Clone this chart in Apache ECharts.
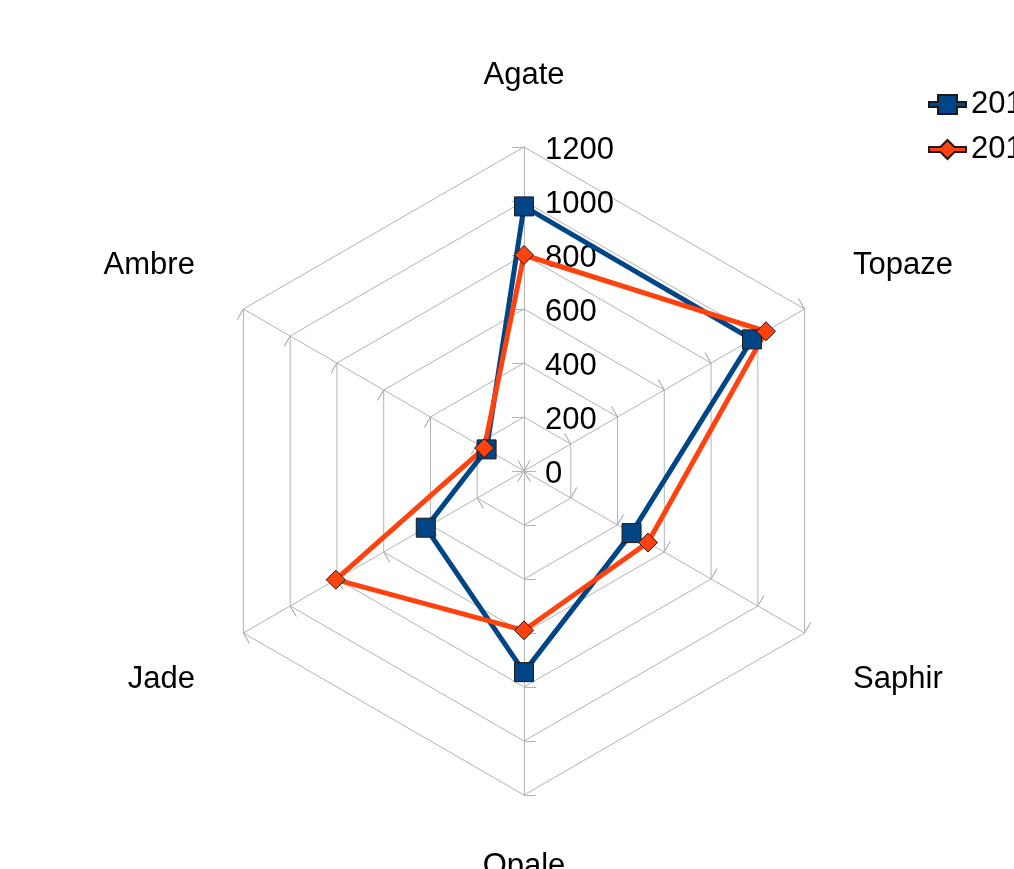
<!DOCTYPE html>
<html>
<head>
<meta charset="utf-8">
<script src="https://cdn.jsdelivr.net/npm/echarts@6/dist/echarts.min.js"></script>
<style>
html,body{margin:0;padding:0;background:#fff;}
#chart{width:1014px;height:869px;}
</style>
</head>
<body>
<div id="chart"></div>
<script>
// Categories in clockwise order starting from the top
const categories = ['Agate', 'Topaze', 'Saphir', 'Opale', 'Jade', 'Ambre'];
const seriesNames = ['2011', '2012'];
const values2011 = [980, 975, 460, 745, 420, 160];
const values2012 = [800, 1035, 530, 590, 805, 170];
const axisMin = 0;
const axisMax = 1200;
const axisSplits = 6;

// ECharts lays indicators out counter-clockwise: reorder so they appear clockwise
const order = [0].concat(categories.map((_, i) => i).slice(1).reverse());
const indicatorNames = order.map(i => categories[i]);
const d2011 = order.map(i => values2011[i]);
const d2012 = order.map(i => values2012[i]);

const FONT = 'Liberation Sans, Arial, sans-serif';
const FS = 31;
const GRID = '#b3b3b3';
const BLUE = '#004586';
const ORANGE = '#ff420e';

function nameStyle(idx) {
  const ang = (90 + idx * 360 / indicatorNames.length) % 360;
  if (Math.abs(Math.cos(ang * Math.PI / 180)) < 1e-6) return 'v';
  return Math.sin(ang * Math.PI / 180) > 0 ? 'up' : 'down';
}

const commonRadar = {
  center: [524, 471],
  radius: 324,
  startAngle: 90,
  splitNumber: axisSplits,
  shape: 'polygon'
};

const indicators = indicatorNames.map((n, i) => {
  const o = { name: n, min: axisMin, max: axisMax };
  if (i === 0) {
    o.axisLabel = {
      show: true, margin: -21, align: 'left',
      color: '#000', fontSize: FS, fontFamily: FONT,
      formatter: function (v) { return '{a|' + String(v) + '}'; },
      rich: { a: { fontSize: FS, fontFamily: FONT, color: '#000', padding: [7, 0, 0, 0] } }
    };
  }
  return o;
});

const option = {
  backgroundColor: '#fff',
  animation: false,
  legend: {
    orient: 'vertical',
    left: 923,
    top: 84,
    itemWidth: 37,
    itemHeight: 19,
    itemGap: 14,
    textStyle: { fontSize: FS, fontFamily: FONT, color: '#000' },
    data: [
      { name: seriesNames[0], icon: 'path://M0,7H9V0H28V7H37V12H28V19H9V12H0Z' },
      { name: seriesNames[1], icon: 'path://M0,7H11.5L18.5,0L25.5,7H37V12H25.5L18.5,19L11.5,12H0Z' }
    ]
  },
  radar: [
    Object.assign({}, commonRadar, {
      indicator: indicators,
      nameGap: 56,
      axisName: {
        color: '#000', fontSize: FS, fontFamily: FONT,
        formatter: function (name) {
          const idx = indicatorNames.indexOf(name);
          return '{' + nameStyle(idx) + '|' + name + '}';
        },
        rich: {
          v: { fontSize: FS, fontFamily: FONT, color: '#000' },
          up: { fontSize: FS, fontFamily: FONT, color: '#000', padding: [0, 0, 32, 0] },
          down: { fontSize: FS, fontFamily: FONT, color: '#000', padding: [36, 0, 0, 0] }
        }
      },
      axisLine: { lineStyle: { color: GRID, width: 1 } },
      splitLine: { lineStyle: { color: GRID, width: 1 } },
      splitArea: { show: false },
      axisTick: { show: true, length: 12, lineStyle: { color: GRID, width: 1 } }
    }),
    Object.assign({}, commonRadar, {
      indicator: indicatorNames.map(n => ({ name: n, min: axisMin, max: axisMax })),
      axisName: { show: false },
      axisLine: { show: false },
      splitLine: { show: false },
      splitArea: { show: false },
      axisTick: { show: true, inside: true, length: 12, lineStyle: { color: GRID, width: 1 } },
      axisLabel: { show: false }
    })
  ],
  series: [{
    type: 'radar',
    radarIndex: 0,
    z: 5,
    data: [
      {
        name: seriesNames[0],
        value: d2011,
        symbol: 'rect',
        symbolSize: 19,
        lineStyle: { color: BLUE, width: 5 },
        itemStyle: { color: BLUE, borderColor: '#1a1a1a', borderWidth: 1 }
      },
      {
        name: seriesNames[1],
        value: d2012,
        symbol: 'diamond',
        symbolSize: 19,
        lineStyle: { color: ORANGE, width: 5 },
        itemStyle: { color: ORANGE, borderColor: '#1a1a1a', borderWidth: 1 }
      }
    ]
  }]
};

const chart = echarts.init(document.getElementById('chart'), null, { renderer: 'canvas' });
chart.setOption(option);
</script>
</body>
</html>
